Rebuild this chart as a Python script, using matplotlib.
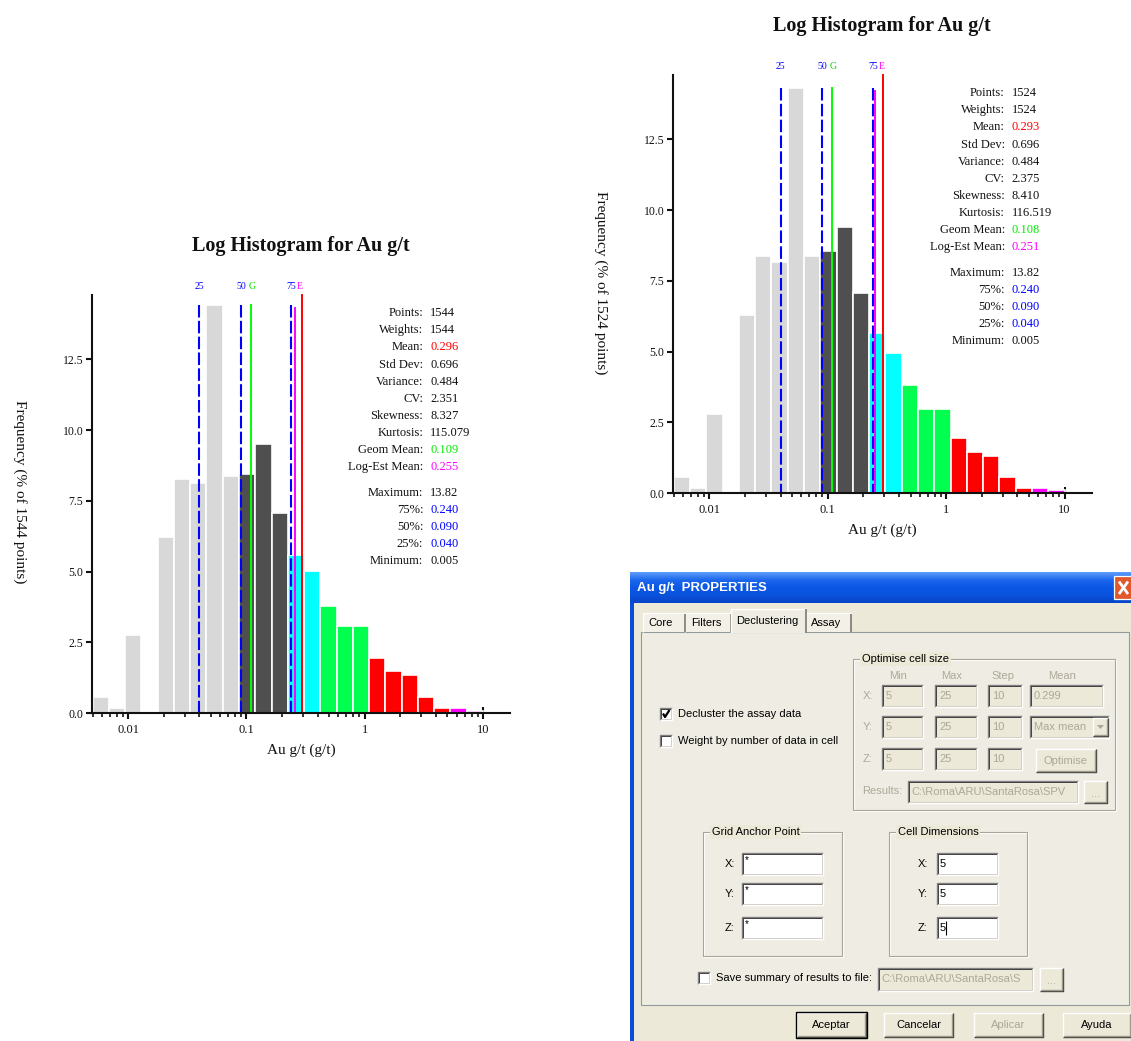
import numpy as np
import matplotlib
matplotlib.use("Agg")
import matplotlib.pyplot as plt
from matplotlib.patches import Rectangle, Polygon
from matplotlib.colors import LinearSegmentedColormap
from matplotlib.transforms import blended_transform_factory, offset_copy
from matplotlib.ticker import FixedLocator, FuncFormatter, LogLocator, NullFormatter

plt.rcParams["font.family"] = ["Liberation Serif", "DejaVu Serif"]

W, H = 1131, 1041

# ---------------------------------------------------------------- data
# log-grade classes: 24 equal log-width bins from the minimum grade to 10 g/t
grade_min = 0.005
grade_top = 10.0
n_bins = 24

# frequency (% of points) per class, all assays
freq_all = [0.58, 0.20, 2.76, 0.00, 6.23, 8.26, 8.14, 14.40, 8.37, 8.44, 9.50, 7.07,
            5.58, 5.02, 3.79, 3.10, 3.10, 1.96, 1.49, 1.37, 0.58, 0.20, 0.20, 0.08]
# frequency (% of points) per class, declustered assays
freq_declust = [0.59, 0.20, 2.79, 0.00, 6.29, 8.37, 8.15, 14.32, 8.37, 8.55, 9.39, 7.09,
                5.67, 4.94, 3.82, 2.96, 2.96, 1.95, 1.45, 1.32, 0.59, 0.20, 0.20, 0.10]

bin_colours = (["#D8D8D8"] * 9 + ["#4F4F4F"] * 3 + ["#00FFFF"] * 2 +
               ["#00FF4E"] * 3 + ["#FF0000"] * 5 + ["#FF00FF"] * 2)

stats_labels = ["Points:", "Weights:", "Mean:", "Std Dev:", "Variance:", "CV:",
                "Skewness:", "Kurtosis:", "Geom Mean:", "Log-Est Mean:",
                "Maximum:", "75%:", "50%:", "25%:", "Minimum:"]
stats_all = ["1544", "1544", "0.296", "0.696", "0.484", "2.351", "8.327", "115.079",
             "0.109", "0.255", "13.82", "0.240", "0.090", "0.040", "0.005"]
stats_declust = ["1524", "1524", "0.293", "0.696", "0.484", "2.375", "8.410", "116.519",
                 "0.108", "0.251", "13.82", "0.240", "0.090", "0.040", "0.005"]
stats_colours = ["#101010", "#101010", "#FF0000", "#101010", "#101010", "#101010",
                 "#101010", "#101010", "#00EE00", "#FF00FF", "#101010",
                 "#0000FF", "#0000FF", "#0000FF", "#101010"]

y_ticks = [0.0, 2.5, 5.0, 7.5, 10.0, 12.5]
x_ticks = [0.01, 0.1, 1, 10]

fig = plt.figure(figsize=(W / 100, H / 100), dpi=100)
fig.patch.set_facecolor("white")


# ---------------------------------------------------------------- histograms
def log_histogram(left, top, right, base, freq, stats, ylabel_y):
    ax = fig.add_axes([left / W, 1 - base / H, (right - left) / W, (base - top) / H])
    edges = np.logspace(np.log10(grade_min), np.log10(grade_top), n_bins + 1)
    ax.bar(edges[:-1], freq, width=np.diff(edges), align="edge",
           color=bin_colours, edgecolor="white", linewidth=1.2, zorder=2)
    ax.set_xscale("log")
    ax.set_xlim(10 ** -2.309, 10 ** 1.2286)
    ax.set_ylim(0, 14.77)

    for side in ("top", "right"):
        ax.spines[side].set_visible(False)
    for side in ("left", "bottom"):
        ax.spines[side].set_linewidth(1.5)
        ax.spines[side].set_color("#111111")
        ax.spines[side].set_zorder(6)

    ax.xaxis.set_major_locator(FixedLocator(x_ticks))
    ax.xaxis.set_major_formatter(FuncFormatter(lambda v, p: f"{v:g}"))
    ax.xaxis.set_minor_locator(LogLocator(base=10, subs=np.arange(2, 10)))
    ax.xaxis.set_minor_formatter(NullFormatter())
    ax.yaxis.set_major_locator(FixedLocator(y_ticks))
    ax.yaxis.set_major_formatter(FuncFormatter(lambda v, p: f"{v:.1f}"))
    ax.tick_params(axis="x", which="major", direction="inout", length=9, width=1.5,
                   pad=3, labelsize=9, colors="#111111")
    ax.tick_params(axis="x", which="minor", direction="out", length=3, width=1.2,
                   colors="#111111")
    ax.tick_params(axis="y", which="major", direction="out", length=4, width=1.5,
                   pad=2, labelsize=8.5, colors="#111111")

    vals = [float(v) for v in stats]
    mean, geom, logest = vals[2], vals[8], vals[9]
    q75, q50, q25 = vals[11], vals[12], vals[13]
    hmax = max(freq)
    for q in (q25, q50, q75):
        ax.plot([q, q], [hmax, 0], color="#0000FF", lw=1.5, dashes=(6, 1.6),
                zorder=4, solid_capstyle="butt")
    ax.plot([geom, geom], [hmax, 0], color="#00FF00", lw=1.4, zorder=4)
    ax.plot([logest, logest], [hmax - 0.1, 0], color="#FF00FF", lw=1.4, zorder=4)
    ax.plot([mean, mean], [14.77, 0], color="#FF0000", lw=1.4, zorder=4, clip_on=False)

    # small markers naming each vertical line
    tr = blended_transform_factory(ax.transData, ax.transAxes)
    for q, s, c in ((q25, "25", "#0000FF"), (q50, "50", "#0000FF"),
                    (q75, "75", "#0000FF")):
        ax.text(q, 1.0215, s, transform=tr, ha="center", va="center",
                fontsize=7, color=c)
    ax.text(geom, 1.0215, "G", transform=offset_copy(tr, fig, x=1.5, units="dots"),
            ha="center", va="center", fontsize=7, color="#00DD00")
    ax.text(q75, 1.0215, "E", transform=offset_copy(tr, fig, x=5.5, units="dots"),
            ha="left", va="center", fontsize=7, color="#FF00FF")

    # summary statistics panel
    for i, (lab, val, col) in enumerate(zip(stats_labels, stats, stats_colours)):
        ypx = 18.3 + i * 17.1 + (8.3 if i >= 10 else 0)
        yf = 1 - ypx / (base - top)
        ax.text(0.7927, yf, lab, transform=ax.transAxes, ha="right", va="center",
                fontsize=9, color="#111111")
        ax.text(0.8088, yf, val, transform=ax.transAxes, ha="left", va="center",
                fontsize=9, color=col)

    ax.text(0.5, 1.117, "Log Histogram for Au g/t", transform=ax.transAxes,
            ha="center", va="center", fontsize=14.5, fontweight="bold", color="#111111")
    ax.text(0.5, -0.0877, "Au g/t (g/t)", transform=ax.transAxes, ha="center",
            va="center", fontsize=11, color="#111111")
    ax.text(-0.171, ylabel_y, f"Frequency (% of {stats[0]} points)",
            transform=ax.transAxes, ha="center", va="center", rotation=-90,
            fontsize=11, color="#111111")
    return ax


log_histogram(91.7, 295, 510, 713.3, freq_all, stats_all, 0.529)
log_histogram(672.7, 75, 1091.7, 493.3, freq_declust, stats_declust, 0.503)

# ---------------------------------------------------------------- properties dialog
ui = fig.add_axes([0, 0, 1, 1], zorder=-1)
ui.set_xlim(0, W)
ui.set_ylim(H, 0)
ui.axis("off")

BG = "#ECE9D8"
GREY = "#ACA899"
UI_FONT = ["Liberation Sans", "DejaVu Sans"]


def rect(x0, y0, x1, y1, fc="none", ec="none", lw=0.8, z=2):
    ui.add_patch(Rectangle((x0, y0), x1 - x0, y1 - y0, facecolor=fc,
                           edgecolor=ec, linewidth=lw, zorder=z))


def line(xs, ys, c, lw=0.8, z=3):
    ui.plot(xs, ys, color=c, lw=lw, zorder=z, solid_capstyle="butt")


def label(x, y, s, c="#000000", size=8, ha="left", weight="normal", z=6, bg=None):
    kw = {}
    if bg is not None:
        kw["bbox"] = dict(facecolor=bg, edgecolor="none", pad=1.2)
    ui.text(x, y, s, color=c, fontsize=size, ha=ha, va="center", fontweight=weight,
            family=UI_FONT, zorder=z, **kw)


def sunken(x0, y0, x1, y1, fc="white"):
    rect(x0, y0, x1, y1, fc=fc)
    line([x0, x0, x1], [y1, y0, y0], "#808080", 1.0)
    line([x0 + 1, x0 + 1, x1 - 1], [y1 - 1, y0 + 1, y0 + 1], "#404040", 0.7)
    line([x0, x1, x1], [y1, y1, y0], "#FFFFFF", 1.0)
    line([x0 + 1, x1 - 1, x1 - 1], [y1 - 1, y1 - 1, y0 + 1], "#D4D0C8", 0.7)


def raised(x0, y0, x1, y1, default=False):
    rect(x0, y0, x1, y1, fc=BG)
    line([x0, x0, x1], [y1, y0, y0], "#FFFFFF", 1.0)
    line([x0, x1, x1], [y1, y1, y0], "#404040", 1.0)
    line([x0 + 1, x1 - 1, x1 - 1], [y1 - 1, y1 - 1, y0 + 1], "#9D9A8C", 1.0)
    if default:
        rect(x0 - 1, y0 - 1, x1 + 1, y1 + 1, ec="#000000", lw=1.0, z=4)


def group(x0, y0, x1, y1, title):
    rect(x0 + 1, y0 + 1, x1 + 1, y1 + 1, ec="#FFFFFF", lw=0.8)
    rect(x0, y0, x1, y1, ec="#A7A597", lw=0.8, z=3)
    label(x0 + 9, y0, title, bg=BG)


def checkbox(x, y, checked):
    sunken(x, y - 6, x + 12, y + 6)
    if checked:
        line([x + 3, x + 5, x + 9.5], [y - 0.5, y + 3, y - 4], "#000000", 1.6, z=5)


# window frame and title bar
rect(630, 572, 1131, 1041, fc="#0A4ED8", z=1)
title_cmap = LinearSegmentedColormap.from_list(
    "xp_title", ["#5C9BFA", "#1B66EC", "#0B58E6", "#0A52DD", "#0845C8"])
ui.imshow(np.linspace(0, 1, 32)[:, None], cmap=title_cmap, aspect="auto",
          extent=(630, 1131, 603, 572), zorder=1.5)
label(637, 588, "Au g/t  PROPERTIES", c="#FFFFFF", size=9.5, weight="bold")
rect(1114, 576, 1134, 599, fc="#E1582C", ec="#FFFFFF", lw=0.9, z=4)
line([1119, 1128], [581.5, 594], "#FFFFFF", 2.0, z=5)
line([1119, 1128], [594, 581.5], "#FFFFFF", 2.0, z=5)
rect(634, 603, 1131, 1041, fc=BG, z=1.6)
ui.set_xlim(0, W)
ui.set_ylim(H, 0)

# tab page
rect(640.5, 632, 1129, 1005, fc="#EFEDE3", ec="#919B9C", lw=0.8, z=2)
for x0, x1, name, cx in ((643, 685, "Core", 660.5), (685, 731, "Filters", 706.5),
                         (806, 851, "Assay", 826)):
    rect(x0, 613, x1, 632, fc="#F2F0E7", z=2.2)
    line([x0, x0, x1], [632, 613, 613], "#FFFFFF", 0.9, z=2.3)
    line([x1, x1], [614, 632], "#716F64", 1.1, z=2.4)
    label(cx, 623.5, name, ha="center")
rect(731, 609, 806, 633, fc="#EFEDE3", z=2.5)
line([731, 731, 806], [633, 609, 609], "#FFFFFF", 1.0, z=2.6)
line([806, 806], [609, 633], "#716F64", 1.1, z=2.6)
label(767, 621, "Declustering", ha="center")

# declustering switches
checkbox(660, 714, True)
label(678, 714, "Decluster the assay data")
checkbox(660, 741, False)
label(678, 741, "Weight by number of data in cell")

# optimisation group (disabled)
group(853, 659, 1115, 810, "Optimise cell size")
for cx, head in ((898, "Min"), (952, "Max"), (1003, "Step"), (1062, "Mean")):
    label(cx, 676, head, c=GREY, ha="center")
rows = (("X:", 685, 707), ("Y:", 716, 738), ("Z:", 748, 770))
cells = ((882, 923, "5"), (935, 977, "25"), (988, 1022, "10"))
for name, y0, y1 in rows:
    label(863, (y0 + y1) / 2, name, c=GREY)
    for x0, x1, txt in cells:
        sunken(x0, y0, x1, y1, fc=BG)
        label(x0 + 4, (y0 + y1) / 2, txt, c=GREY)
sunken(1030, 685, 1103, 707, fc=BG)
label(1034, 696, "0.299", c=GREY)
sunken(1030, 716, 1109, 738, fc=BG)
label(1034, 727, "Max mean", c=GREY)
raised(1093, 718, 1107.5, 736)
ui.add_patch(Polygon([[1097, 725], [1104, 725], [1100.5, 729]], closed=True,
                     facecolor=GREY, edgecolor="none", zorder=5))
raised(1036, 749, 1096, 772)
label(1066, 760.5, "Optimise", c=GREY, ha="center")
label(862, 791, "Results:", c=GREY)
sunken(908, 781, 1078, 803, fc=BG)
label(911, 792, "C:\\Roma\\ARU\\SantaRosa\\SPV", c=GREY)
raised(1084, 781, 1107, 803)
label(1095.5, 794, "...", c=GREY, ha="center")

# grid anchor point and cell dimensions
group(703, 832, 842, 956, "Grid Anchor Point")
group(889, 832, 1027, 956, "Cell Dimensions")
for name, y0, y1 in (("X:", 853, 875), ("Y:", 883, 905), ("Z:", 917, 939)):
    label(725, (y0 + y1) / 2, name)
    sunken(742, y0, 823, y1)
    label(745, y0 + 7, "*", size=7)
    label(918, (y0 + y1) / 2, name)
    sunken(937, y0, 998, y1)
    label(940, (y0 + y1) / 2, "5")
line([946, 946], [921, 935], "#000000", 0.8, z=7)

# results file
checkbox(698, 978, False)
label(716, 978, "Save summary of results to file:")
sunken(878, 968, 1033, 991, fc=BG)
label(881, 979, "C:\\Roma\\ARU\\SantaRosa\\S", c=GREY)
raised(1040, 968, 1063, 991)
label(1051.5, 981, "...", c=GREY, ha="center")

# dialog buttons
for x0, x1, txt, col, dflt in ((797, 866, "Aceptar", "#000000", True),
                               (884, 953, "Cancelar", "#000000", False),
                               (974, 1043, "Aplicar", GREY, False),
                               (1063, 1131, "Ayuda", "#000000", False)):
    raised(x0, 1013, x1, 1037, default=dflt)
    label((x0 + x1) / 2, 1025, txt, c=col, ha="center")

fig.savefig("out.png", dpi=100, facecolor="white")
